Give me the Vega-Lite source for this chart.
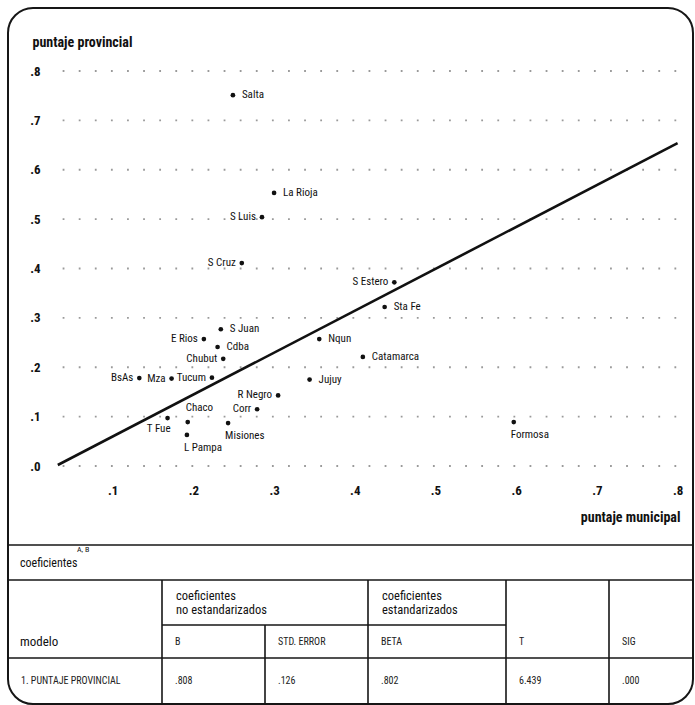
{
  "$schema": "https://vega.github.io/schema/vega-lite/v6.json",
  "width": 685,
  "height": 696,
  "autosize": {"type": "none"},
  "padding": {"left": 8, "top": 8, "right": 2, "bottom": 1},
  "background": "white",
  "config": {
    "view": {"stroke": "#161616", "strokeWidth": 2, "cornerRadius": 25},
    "text": {"font": "Roboto Condensed, Roboto, sans-serif", "fontSize": 11, "color": "#111111"},
    "axis": {
      "labelFont": "Roboto Condensed, Roboto, sans-serif",
      "titleFont": "Roboto Condensed, Roboto, sans-serif"
    }
  },
  "datasets": {
    "provincias": [
      {"provincia": "Salta", "municipal": 0.249, "provincial": 0.751},
      {"provincia": "La Rioja", "municipal": 0.300, "provincial": 0.553},
      {"provincia": "S Luis", "municipal": 0.285, "provincial": 0.504},
      {"provincia": "S Cruz", "municipal": 0.260, "provincial": 0.411},
      {"provincia": "S Estero", "municipal": 0.449, "provincial": 0.372},
      {"provincia": "Sta Fe", "municipal": 0.437, "provincial": 0.322},
      {"provincia": "S Juan", "municipal": 0.234, "provincial": 0.277},
      {"provincia": "E Rios", "municipal": 0.213, "provincial": 0.257},
      {"provincia": "Nqun", "municipal": 0.356, "provincial": 0.257},
      {"provincia": "Cdba", "municipal": 0.230, "provincial": 0.241},
      {"provincia": "Catamarca", "municipal": 0.410, "provincial": 0.221},
      {"provincia": "Chubut", "municipal": 0.237, "provincial": 0.217},
      {"provincia": "BsAs", "municipal": 0.133, "provincial": 0.178},
      {"provincia": "Mza", "municipal": 0.173, "provincial": 0.177},
      {"provincia": "Tucum", "municipal": 0.223, "provincial": 0.179},
      {"provincia": "Jujuy", "municipal": 0.344, "provincial": 0.175},
      {"provincia": "R Negro", "municipal": 0.305, "provincial": 0.143},
      {"provincia": "Corr", "municipal": 0.279, "provincial": 0.115},
      {"provincia": "T Fue", "municipal": 0.168, "provincial": 0.097},
      {"provincia": "Chaco", "municipal": 0.193, "provincial": 0.089},
      {"provincia": "Misiones", "municipal": 0.243, "provincial": 0.087},
      {"provincia": "Formosa", "municipal": 0.597, "provincial": 0.089},
      {"provincia": "L Pampa", "municipal": 0.192, "provincial": 0.063}
    ],
    "recta": [
      {"municipal": 0.032, "provincial": 0.002},
      {"municipal": 0.8, "provincial": 0.654}
    ],
    "grilla": [
      {"provincial": 0}, {"provincial": 0.1}, {"provincial": 0.2}, {"provincial": 0.3},
      {"provincial": 0.4}, {"provincial": 0.5}, {"provincial": 0.6}, {"provincial": 0.7},
      {"provincial": 0.8}
    ],
    "lineas": [
      {"x": 0, "x2": 6, "y": 0, "y2": 0},
      {"x": 0, "x2": 6, "y": 1, "y2": 1},
      {"x": 1, "x2": 4, "y": 2, "y2": 2},
      {"x": 0, "x2": 6, "y": 3, "y2": 3},
      {"x": 1, "x2": 1, "y": 1, "y2": 4},
      {"x": 2, "x2": 2, "y": 2, "y2": 4},
      {"x": 3, "x2": 3, "y": 1, "y2": 4},
      {"x": 4, "x2": 4, "y": 1, "y2": 4},
      {"x": 5, "x2": 5, "y": 1, "y2": 4}
    ],
    "titulo": [
      {"texto": "coeficientes", "col": 0, "fila": 0.5}
    ],
    "encabezados": [
      {"texto": "modelo", "col": 0, "fila": 2.5}
    ],
    "grupos": [
      {"texto": "coeficientes\nno estandarizados", "col": 1, "fila": 1.5},
      {"texto": "coeficientes\nestandarizados", "col": 3, "fila": 1.5}
    ],
    "celdas": [
      {"texto": "B", "col": 1, "fila": 2.5},
      {"texto": "STD. ERROR", "col": 2, "fila": 2.5},
      {"texto": "BETA", "col": 3, "fila": 2.5},
      {"texto": "T", "col": 4, "fila": 2.5},
      {"texto": "SIG", "col": 5, "fila": 2.5},
      {"texto": "1. PUNTAJE PROVINCIAL", "col": 0, "fila": 3.5},
      {"texto": ".808", "col": 1, "fila": 3.5},
      {"texto": ".126", "col": 2, "fila": 3.5},
      {"texto": ".802", "col": 3, "fila": 3.5},
      {"texto": "6.439", "col": 4, "fila": 3.5},
      {"texto": ".000", "col": 5, "fila": 3.5}
    ],
    "notas": [
      {"texto": "A, B", "col": 0, "fila": 0.5}
    ]
  },
  "layer": [
    {
      "layer": [
        {
          "data": {"name": "grilla"},
          "mark": {"type": "rule", "stroke": "#9a9a9a", "strokeWidth": 1.8, "strokeDash": [1.8, 14.3]},
          "encoding": {
            "x": {"datum": 0.038, "type": "quantitative", "scale": {"domain": [-0.0297, 0.8191], "nice": false, "zero": false}},
            "x2": {"datum": 0.8},
            "y": {"field": "provincial", "type": "quantitative", "scale": {"domain": [-0.482, 0.9276], "nice": false, "zero": false}}
          }
        },
        {
          "data": {"name": "recta"},
          "mark": {"type": "line", "color": "#111111", "strokeWidth": 2.6},
          "encoding": {
            "x": {"field": "municipal", "type": "quantitative", "scale": {"domain": [-0.0297, 0.8191], "nice": false, "zero": false}},
            "y": {"field": "provincial", "type": "quantitative", "scale": {"domain": [-0.482, 0.9276], "nice": false, "zero": false}}
          }
        },
        {
          "data": {"name": "provincias"},
          "mark": {"type": "circle", "color": "#111111", "opacity": 1, "size": 22},
          "encoding": {
            "x": {
              "field": "municipal", "type": "quantitative",
              "scale": {"domain": [-0.0297, 0.8191], "nice": false, "zero": false},
              "axis": {
                "orient": "bottom", "offset": -224,
                "values": [0.1, 0.2, 0.3, 0.4, 0.5, 0.6, 0.7, 0.8],
                "labelExpr": "slice(format(datum.value, '.1f'), 1)",
                "domain": false, "ticks": false, "grid": false,
                "labelPadding": 4, "labelFontSize": 13, "labelFontWeight": "bold",
                "labelColor": "#111111", "labelFlush": false, "labelOverlap": false,
                "title": "puntaje municipal", "titleX": 672, "titleY": 37,
                "titleAlign": "right", "titleBaseline": "middle",
                "titleFontSize": 14, "titleFontWeight": "bold", "titleColor": "#111111"
              }
            },
            "y": {
              "field": "provincial", "type": "quantitative",
              "scale": {"domain": [-0.482, 0.9276], "nice": false, "zero": false},
              "axis": {
                "orient": "left", "offset": -34,
                "values": [0, 0.1, 0.2, 0.3, 0.4, 0.5, 0.6, 0.7, 0.8],
                "labelExpr": "slice(format(datum.value, '.1f'), 1)",
                "domain": false, "ticks": false, "grid": false,
                "labelPadding": 2, "labelFontSize": 13, "labelFontWeight": "bold",
                "labelColor": "#111111", "labelFlush": false, "labelOverlap": false,
                "title": "puntaje provincial", "titleAngle": 0, "titleX": -10, "titleY": 34,
                "titleAlign": "left", "titleBaseline": "middle",
                "titleFontSize": 14, "titleFontWeight": "bold", "titleColor": "#111111"
              }
            }
          }
        },
        {
          "data": {"name": "provincias"},
          "transform": [{"filter": {"field": "provincia", "oneOf": ["Salta", "La Rioja", "S Juan", "Cdba", "Nqun", "Jujuy", "Sta Fe", "Catamarca"]}}],
          "mark": {"type": "text", "align": "left", "baseline": "middle", "dx": 9},
          "encoding": {
            "x": {"field": "municipal", "type": "quantitative", "scale": {"domain": [-0.0297, 0.8191], "nice": false, "zero": false}},
            "y": {"field": "provincial", "type": "quantitative", "scale": {"domain": [-0.482, 0.9276], "nice": false, "zero": false}},
            "text": {"field": "provincia"}
          }
        },
        {
          "data": {"name": "provincias"},
          "transform": [{"filter": {"field": "provincia", "oneOf": ["S Luis", "S Cruz", "E Rios", "Chubut", "BsAs", "Mza", "Tucum", "R Negro", "Corr", "S Estero"]}}],
          "mark": {"type": "text", "align": "right", "baseline": "middle", "dx": -6},
          "encoding": {
            "x": {"field": "municipal", "type": "quantitative", "scale": {"domain": [-0.0297, 0.8191], "nice": false, "zero": false}},
            "y": {"field": "provincial", "type": "quantitative", "scale": {"domain": [-0.482, 0.9276], "nice": false, "zero": false}},
            "text": {"field": "provincia"}
          }
        },
        {
          "data": {"name": "provincias"},
          "transform": [{"filter": {"field": "provincia", "oneOf": ["L Pampa", "Misiones", "Formosa"]}}],
          "mark": {"type": "text", "align": "left", "baseline": "middle", "dx": -3, "dy": 13},
          "encoding": {
            "x": {"field": "municipal", "type": "quantitative", "scale": {"domain": [-0.0297, 0.8191], "nice": false, "zero": false}},
            "y": {"field": "provincial", "type": "quantitative", "scale": {"domain": [-0.482, 0.9276], "nice": false, "zero": false}},
            "text": {"field": "provincia"}
          }
        },
        {
          "data": {"name": "provincias"},
          "transform": [{"filter": {"field": "provincia", "equal": "Chaco"}}],
          "mark": {"type": "text", "align": "left", "baseline": "middle", "dx": -2, "dy": -14},
          "encoding": {
            "x": {"field": "municipal", "type": "quantitative", "scale": {"domain": [-0.0297, 0.8191], "nice": false, "zero": false}},
            "y": {"field": "provincial", "type": "quantitative", "scale": {"domain": [-0.482, 0.9276], "nice": false, "zero": false}},
            "text": {"field": "provincia"}
          }
        },
        {
          "data": {"name": "provincias"},
          "transform": [{"filter": {"field": "provincia", "equal": "T Fue"}}],
          "mark": {"type": "text", "align": "right", "baseline": "middle", "dx": 3, "dy": 11},
          "encoding": {
            "x": {"field": "municipal", "type": "quantitative", "scale": {"domain": [-0.0297, 0.8191], "nice": false, "zero": false}},
            "y": {"field": "provincial", "type": "quantitative", "scale": {"domain": [-0.482, 0.9276], "nice": false, "zero": false}},
            "text": {"field": "provincia"}
          }
        }
      ]
    },
    {
      "encoding": {
        "x": {
          "field": "x", "type": "quantitative",
          "scale": {"domain": [0, 1, 2, 3, 4, 5, 6], "range": [0, 154, 257, 360, 498, 601, 685], "nice": false, "zero": false},
          "axis": null
        },
        "y": {
          "field": "y", "type": "quantitative",
          "scale": {"domain": [0, 1, 2, 3, 4], "range": [537, 572, 617, 650, 696], "nice": false, "zero": false},
          "axis": null
        }
      },
      "layer": [
        {
          "data": {"name": "lineas"},
          "mark": {"type": "rule", "color": "#161616", "strokeWidth": 1.6},
          "encoding": {"x2": {"field": "x2"}, "y2": {"field": "y2"}}
        },
        {
          "data": {"name": "titulo"},
          "mark": {"type": "text", "align": "left", "baseline": "middle", "dx": 12, "fontSize": 12},
          "encoding": {
            "x": {"field": "col", "type": "quantitative"},
            "y": {"field": "fila", "type": "quantitative"},
            "text": {"field": "texto"}
          }
        },
        {
          "data": {"name": "encabezados"},
          "mark": {"type": "text", "align": "left", "baseline": "middle", "dx": 12, "fontSize": 13},
          "encoding": {
            "x": {"field": "col", "type": "quantitative"},
            "y": {"field": "fila", "type": "quantitative"},
            "text": {"field": "texto"}
          }
        },
        {
          "data": {"name": "grupos"},
          "mark": {"type": "text", "align": "left", "baseline": "middle", "dx": 14, "dy": -6.5, "fontSize": 12.5, "lineBreak": "\n", "lineHeight": 13.5},
          "encoding": {
            "x": {"field": "col", "type": "quantitative"},
            "y": {"field": "fila", "type": "quantitative"},
            "text": {"field": "texto"}
          }
        },
        {
          "data": {"name": "celdas"},
          "mark": {"type": "text", "align": "left", "baseline": "middle", "dx": 13, "fontSize": 10, "color": "#222222"},
          "encoding": {
            "x": {"field": "col", "type": "quantitative"},
            "y": {"field": "fila", "type": "quantitative"},
            "text": {"field": "texto"}
          }
        },
        {
          "data": {"name": "notas"},
          "mark": {"type": "text", "align": "left", "baseline": "middle", "dx": 69, "dy": -13, "fontSize": 8},
          "encoding": {
            "x": {"field": "col", "type": "quantitative"},
            "y": {"field": "fila", "type": "quantitative"},
            "text": {"field": "texto"}
          }
        }
      ]
    }
  ],
  "resolve": {"scale": {"x": "independent", "y": "independent"}}
}
